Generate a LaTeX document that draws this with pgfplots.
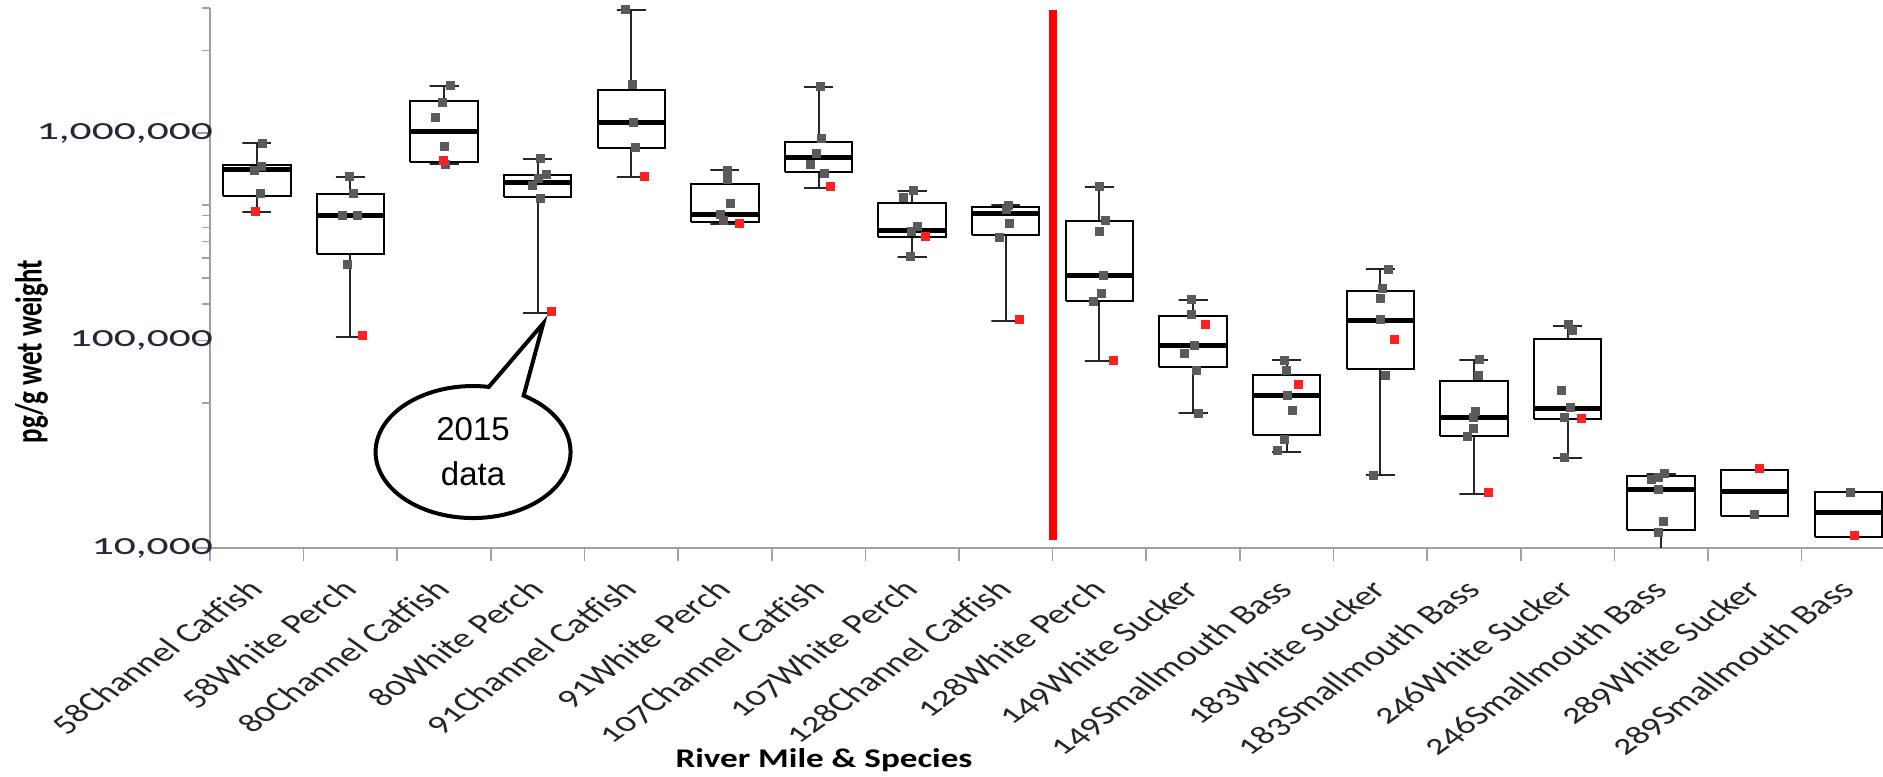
\documentclass[border=0pt]{standalone}
\usepackage{fontspec}
\setmainfont{Carlito}[Numbers=OldStyle]
\newfontfamily\arialfont{Liberation Sans}
\usepackage{graphicx}
\usepackage{pgfplots}
\pgfplotsset{compat=1.18}
\usetikzlibrary{shapes.callouts}

\definecolor{ptgray}{HTML}{5A5A5A}
\definecolor{ptred}{HTML}{FF2020}
\definecolor{axgray}{HTML}{A0A0A0}
\definecolor{ticktext}{HTML}{222A3A}

% one box: position, lower whisker, q1, median, q3, upper whisker
\newcommand{\bx}[6]{%
  \pgfmathsetmacro\bxl{#1-0.36}\pgfmathsetmacro\bxr{#1+0.36}%
  \pgfmathsetmacro\bcl{#1-0.155}\pgfmathsetmacro\bcr{#1+0.155}%
  \addplot[black!85, line width=1pt] coordinates {(#1,#5) (#1,#6) (\bcl,#6) (\bcr,#6)};
  \addplot[black!85, line width=1pt] coordinates {(#1,#3) (#1,#2) (\bcl,#2) (\bcr,#2)};
  \addplot[black, line width=1pt, line join=miter] coordinates {(\bxl,#3) (\bxr,#3) (\bxr,#5) (\bxl,#5) (\bxl,#3)};
  \addplot[black, line width=2.5pt] coordinates {(\bxl,#4) (\bxr,#4)};
}

\begin{document}
\begin{tikzpicture}
\useasboundingbox (0,0) rectangle (941.5pt,-388pt);
\begin{axis}[
    at={(105pt,-274pt)}, anchor=south west,
    scale only axis, width=836.5pt, height=270pt,
    ymode=log, ymin=1e4, ymax=4e6,
    xmin=-0.5, xmax=17.37,
    axis lines*=left,
    axis line style={axgray, line width=1pt},
    tick align=outside,
    every tick/.style={axgray, line width=0.8pt},
    major tick length=6.5pt, minor tick length=4pt,
    ytick={1e4,1e5,1e6},
    yticklabels={{10,000},{100,000},{1,000,000}},
    minor ytick={5e4,1.5e5,2e5,2.5e5,3e5,3.5e5,4e5,4.5e5,2.5e6,4e6},
    y tick label style={font=\fontsize{15}{15}\selectfont, text=ticktext, xscale=1.45, xshift=9pt},
    xtick={-0.5,0.5,...,16.5},
    xticklabels={},
    extra x ticks={0,...,17},
    extra x tick labels={58Channel Catfish,58White Perch,80Channel Catfish,80White Perch,
      91Channel Catfish,91White Perch,107Channel Catfish,107White Perch,128Channel Catfish,
      128White Perch,149White Sucker,149Smallmouth Bass,183White Sucker,183Smallmouth Bass,
      246White Sucker,246Smallmouth Bass,289White Sucker,289Smallmouth Bass},
    extra x tick style={major tick length=0pt,
      tick label style={xshift=-5.5pt, yshift=-10pt, cm={0.99,0.7071,-0.99,0.7071,(0,0)},
        anchor=north east, font=\fontsize{13.8}{13.8}\selectfont, text=black!85}},
    xlabel={River Mile \& Species},
    xlabel style={at={(axis description cs:0.367,-0.3926)}, anchor=center, xscale=1.3,
      font=\bfseries\fontsize{13.5}{13.5}\selectfont},
    ylabel={\scalebox{1}[1.4]{pg/g wet weight}},
    every axis y label/.style={at={(axis description cs:-0.1066,0.3635)}, anchor=center,
      rotate=90, font=\bfseries\fontsize{13.5}{13.5}\selectfont},
]
\bx{0}{4.18e5}{4.99e5}{6.63e5}{7.01e5}{8.92e5}
\bx{1}{1.04e5}{2.60e5}{3.98e5}{5.08e5}{6.12e5}
\bx{2}{7.07e5}{7.27e5}{1.02e6}{1.43e6}{1.69e6}
\bx{3}{1.35e5}{4.92e5}{5.76e5}{6.28e5}{7.49e5}
\bx{4}{6.12e5}{8.44e5}{1.12e6}{1.61e6}{3.92e6}
\bx{5}{3.64e5}{3.74e5}{4.03e5}{5.66e5}{6.63e5}
\bx{6}{5.41e5}{6.51e5}{7.58e5}{9.02e5}{1.67e6}
\bx{7}{2.53e5}{3.16e5}{3.38e5}{4.61e5}{5.27e5}
\bx{8}{1.24e5}{3.22e5}{4.10e5}{4.38e5}{4.50e5}
\bx{9}{7.94e4}{1.55e5}{2.05e5}{3.75e5}{5.49e5}
\bx{10}{4.47e4}{7.43e4}{9.48e4}{1.31e5}{1.57e5}
\bx{11}{2.90e4}{3.49e4}{5.44e4}{6.84e4}{8.03e4}
\bx{12}{2.24e4}{7.31e4}{1.25e5}{1.73e5}{2.22e5}
\bx{13}{1.83e4}{3.45e4}{4.26e4}{6.36e4}{8.03e4}
\bx{14}{2.72e4}{4.20e4}{4.68e4}{1.02e5}{1.18e5}
\bx{15}{9.0e3}{1.22e4}{1.91e4}{2.23e4}{2.28e4}
\bx{16}{1.42e4}{1.42e4}{1.88e4}{2.37e4}{2.37e4}
\bx{17}{1.13e4}{1.13e4}{1.49e4}{1.86e4}{1.86e4}

% individual fish
\addplot[only marks, mark=square*, mark size=2pt, color=ptgray] coordinates {
 (0.06,8.9e5) (0.05,6.9e5) (-0.03,6.6e5) (0.04,5.12e5)
 (0.99,6.2e5) (1.03,5.1e5) (0.91,4.0e5) (1.07,4.0e5) (0.97,2.33e5)
 (2.07,1.70e6) (1.98,1.40e6) (1.91,1.19e6) (2.0,8.6e5) (2.01,7.07e5)
 (3.03,7.5e5) (3.09,6.34e5) (3.01,6.05e5) (2.94,5.6e5) (3.03,4.84e5)
 (3.94,3.92e6) (4.01,1.72e6) (4.02,1.12e6) (4.04,8.5e5)
 (5.03,6.6e5) (5.03,5.98e5) (5.06,4.58e5) (4.95,4.03e5) (4.98,3.81e5)
 (6.02,1.67e6) (6.03,9.43e5) (5.98,7.98e5) (5.91,7.07e5) (6.06,6.39e5)
 (7.01,5.3e5) (6.91,4.88e5) (7.06,3.53e5) (6.99,3.35e5) (6.98,2.55e5)
 (8.03,4.5e5) (8.01,4.3e5) (8.04,3.67e5) (7.93,3.14e5)
 (9.0,5.5e5) (9.06,3.8e5) (9.0,3.36e5) (9.04,2.05e5) (9.02,1.68e5) (8.94,1.55e5)
 (9.98,1.58e5) (9.98,1.34e5) (10.01,9.5e4) (9.91,8.71e4) (10.04,7.18e4) (10.06,4.47e4)
 (10.98,8.0e4) (11.0,7.18e4) (11.01,5.45e4) (11.06,4.61e4) (10.98,3.33e4) (10.9,2.94e4)
 (12.09,2.2e5) (12.02,1.79e5) (12.0,1.60e5) (12.0,1.26e5) (12.05,6.77e4) (11.93,2.25e4)
 (13.06,8.1e4) (13.05,6.77e4) (13.02,4.56e4) (13.0,4.26e4) (13.0,3.79e4) (12.93,3.45e4)
 (14.01,1.19e5) (14.05,1.12e5) (13.93,5.73e4) (14.03,4.76e4) (13.97,4.25e4) (13.97,2.73e4)
 (15.04,2.28e4) (14.97,2.2e4) (14.9,2.15e4) (14.97,1.91e4) (15.02,1.35e4) (14.97,1.19e4)
 (16.0,1.45e4)
 (17.02,1.86e4)
};
% 2015 samples
\addplot[only marks, mark=square*, mark size=2pt, color=ptred] coordinates {
 (-0.02,4.2e5) (1.13,1.06e5) (1.99,7.35e5) (3.15,1.38e5) (4.14,6.2e5) (5.15,3.67e5)
 (6.13,5.51e5) (7.14,3.16e5) (8.15,1.26e5) (9.15,7.99e4) (10.13,1.20e5) (11.13,6.17e4)
 (12.15,1.01e5) (13.16,1.86e4) (14.15,4.2e4) (16.05,2.41e4) (17.06,1.15e4)
};

\addplot[red, line width=4pt] coordinates {(8.5,1.09e4) (8.5,3.9e6)};

\node[ellipse callout, draw=black, line width=2pt, minimum width=97.5pt, minimum height=66pt,
  inner sep=0pt, callout absolute pointer={(axis cs:3.06,1.21e5)}, callout pointer arc=22,
  align=center, font=\arialfont\fontsize{16.5}{22.5}\selectfont]
  at (axis cs:2.31,2.9e4) {2015\\data};
\end{axis}
\end{tikzpicture}
\end{document}
